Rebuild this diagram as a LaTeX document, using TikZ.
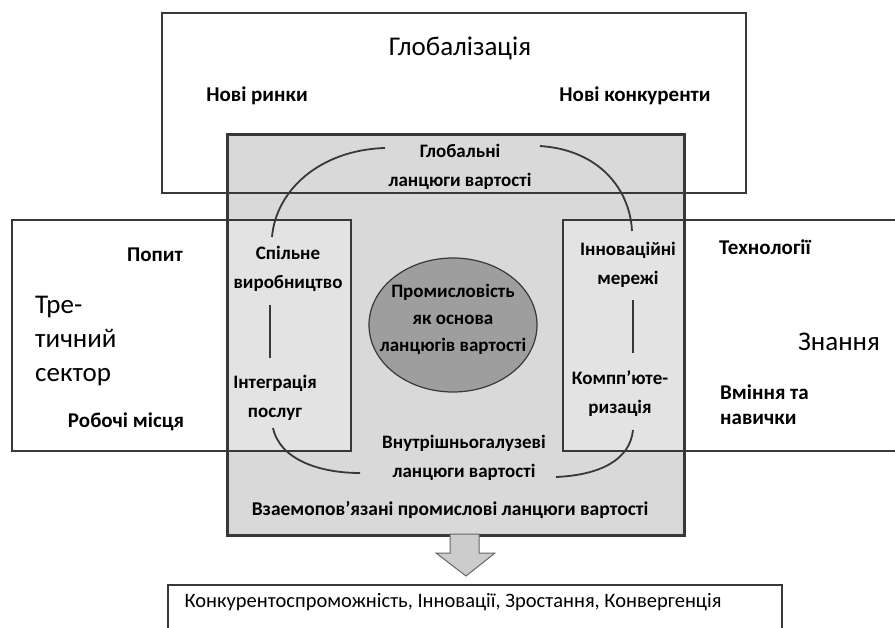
\documentclass[tikz,border=0pt]{standalone}
\usepackage{fontspec}
\setmainfont{Carlito}
\usepackage{xcolor}
\usepackage{tikz}
\usetikzlibrary{shapes.geometric}
\colorlet{boxline}{black!78}
\colorlet{chainfill}{black!15}
\colorlet{cellfill}{black!11}
\colorlet{corefill}{black!38}
\colorlet{arrowfill}{black!20}
\tikzstyle{frame}=[draw=boxline,line width=2pt]
\tikzstyle{thickframe}=[draw=boxline,line width=3pt]
\tikzstyle{link}=[draw=boxline,line width=1.8pt]
\tikzstyle{head}=[font=\fontsize{27}{34}\selectfont,inner sep=0pt]
\tikzstyle{factor}=[font=\bfseries\fontsize{21}{25}\selectfont,inner sep=0pt]
\tikzstyle{cell}=[font=\bfseries\fontsize{19}{29}\selectfont,align=center,inner sep=0pt]

\begin{document}
\begin{tikzpicture}[x=1pt,y=-1pt]
	\useasboundingbox (0,0) rectangle (895,628);
	\clip (0,0) rectangle (895,628);
	\fill[chainfill] (227,135) rectangle (684,535);
	\fill[cellfill]  (227,220) rectangle (351,451);
	\fill[cellfill]  (563,220) rectangle (684,451);
	\draw[frame] (162,13)  rectangle (746,193);
	\draw[frame] (12,220)  rectangle (227,451);
	\draw[frame] (684,220) rectangle (910,451);
	\draw[frame] (227,220) rectangle (351,451);
	\draw[frame] (563,220) rectangle (684,451);
	\draw[thickframe] (227,135) rectangle (684,535);
	\draw[frame] (168,585) rectangle (782,660);
	\node[ellipse,draw=boxline,line width=1.2pt,fill=corefill,minimum width=168,minimum height=134] (core) at (453,325) {};
	\node[head]   (glob)    at (460,48)  {Глобалізація};
	\node[factor] (markets) at (257,96)  {Нові ринки};
	\node[factor] (rivals)  at (635,96)  {Нові конкуренти};
	\node[cell]   (gvc)     at (460,167) {Глобальні\\ланцюги вартості};
	\node[factor] (demand)  at (155,255) {Попит};
	\node[head,align=left,anchor=west] (tert) at (35,341) {Тре-\\тичний\\сектор};
	\node[factor] (jobs)    at (126,422) {Робочі місця};
	\node[cell]   (coprod)  at (288,269) {Спільне\\виробництво};
	\node[cell]   (servint) at (275,398) {Інтеграція\\послуг};
	\node[cell]   (innet)   at (628,265) {Інноваційні\\мережі};
	\node[cell]   (comp)    at (620,394) {Компп'юте-\\ризація};
	\node[factor] (tech)    at (765,247) {Технології};
	\node[head]   (know)    at (839,342) {Знання};
	\node[factor,align=left,anchor=west] (skills) at (720,405) {Вміння та\\навички};
	\node[cell,font=\bfseries\fontsize{19}{27}\selectfont] (coretext) at (453,319) {Промисловість\\як основа\\ланцюгів вартості};
	\node[cell]   (ivc)     at (464,458) {Внутрішньогалузеві\\ланцюги вартості};
	\node[cell,font=\bfseries\fontsize{19.5}{22}\selectfont] (linked) at (450,510) {Взаемопов'язані промислові ланцюги вартості};
	\node[font=\fontsize{20.5}{22}\selectfont,inner sep=0pt] (result) at (453,602) {Конкурентоспроможність, Інновації, Зростання, Конвергенція};
	% arcs round the core
	\coordinate (gvc w)  at (385,148);
	\coordinate (gvc e)  at (540,146);
	\coordinate (coprod n) at (272,237);
	\coordinate (innet n)  at (632,231);
	\coordinate (servint s) at (273,428);
	\coordinate (comp s)  at (633,430);
	\coordinate (ivc w)  at (360,473);
	\coordinate (ivc e)  at (556,477);
	\draw[link] (gvc w) .. controls (320,150) and (276,190) .. (coprod n);
	\draw[link] (gvc e) .. controls (600,150) and (630,190) .. (innet n);
	\draw[link] (servint s) .. controls (280,460) and (320,473) .. (ivc w);
	\draw[link] (ivc e) .. controls (600,475) and (630,460) .. (comp s);
	\coordinate (left a)  at (270,305);
	\coordinate (left b)  at (270,358);
	\coordinate (right a) at (633,300);
	\coordinate (right b) at (633,353);
	\draw[link] (left a) -- (left b);
	\draw[link] (right a) -- (right b);
	% arrow down
	\draw[fill=arrowfill,draw=black!60,line width=1pt] (450,534) -- (479,534) -- (479,553) -- (495,553) -- (466,576) -- (436,553) -- (450,553) -- cycle;
\end{tikzpicture}
\end{document}
